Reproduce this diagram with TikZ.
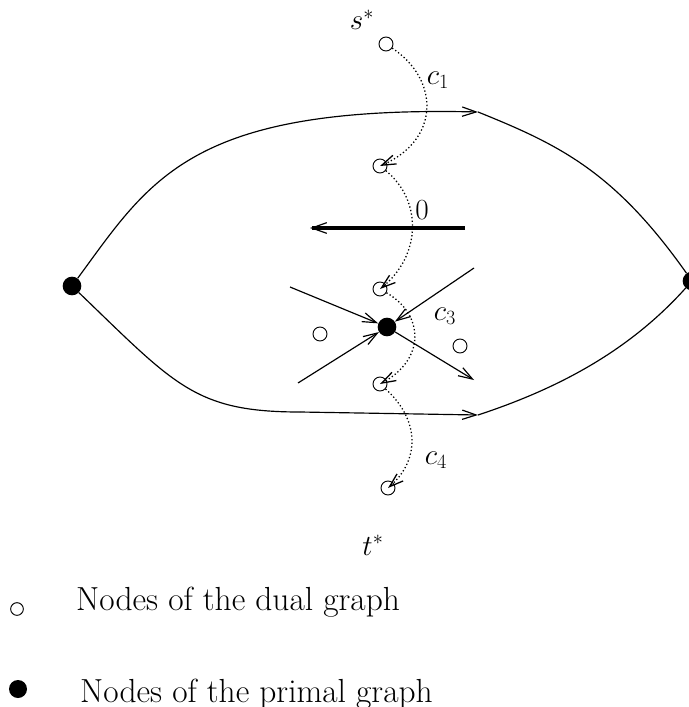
\documentclass[tikz,border=0pt]{standalone}
\usepackage{xcolor}
\usepackage{tikz}
\usetikzlibrary{arrows.meta}
\usepackage{amsmath, amssymb}

\tikzset{
  dual/.style={circle, draw, line width=0.8pt, fill=white, inner sep=0pt, minimum size=0.42cm},
  primal/.style={circle, fill=black, inner sep=0pt, minimum size=0.56cm},
  tip/.style={-{Straight Barb[length=0.42cm, width=0.28cm]}},
  arista/.style={line width=1pt},
  corte/.style={dotted, line width=1.1pt, tip},
  leyenda/.style={anchor=base west, inner sep=0pt, font=\fontsize{28.5}{32}\selectfont}
}

\begin{document}
\begin{tikzpicture}[x=0.03cm, y=0.03cm]
\useasboundingbox (0,0) rectangle (688,-707);

% Nodos del primal
\node[primal] (pl) at (72,-286) {};
\node[primal] (pr) at (692,-281) {};
\node[primal] (pc) at (387,-327) {};

% Nodos del dual
\node[dual] (s) at (386,-44) {};
\node[dual] (d1) at (380,-166) {};
\node[dual] (d2) at (380,-289) {};
\node[dual] (d3) at (320,-334) {};
\node[dual] (d4) at (460,-346) {};
\node[dual] (d5) at (380,-384) {};
\node[dual] (t) at (388,-488) {};

% Aristas exteriores
\coordinate (am) at (478,-112);
\coordinate (bm) at (478,-415);
\coordinate (bq) at (300,-412);
\draw[arista, tip] (pl) .. controls (150,-180) and (190,-105) .. (am);
\draw[arista] (am) .. controls (560,-145) and (615,-172) .. (pr);
\draw[arista] (pl) .. controls (175,-385) and (195,-412) .. (bq);
\draw[arista, tip] (bq) -- (bm);
\draw[arista] (bm) .. controls (560,-388) and (630,-350) .. (pr);

% Arista de peso cero
\coordinate (za) at (465,-228);
\coordinate (zb) at (310,-228);
\draw[line width=2.6pt, -{Straight Barb[length=0.45cm, width=0.32cm, line width=1pt]}] (za) -- (zb);

% Aristas del nodo central
\coordinate (e1) at (290,-287);
\coordinate (e2) at (298,-383);
\coordinate (e3) at (474,-268);
\coordinate (e4) at (474,-380);
\draw[arista, tip] (e1) -- (pc);
\draw[arista, tip] (e2) -- (pc);
\draw[arista, tip] (e3) -- (pc);
\draw[arista, tip] (pc) -- (e4);

% Cortes en el dual
\draw[corte] (s) .. controls (440,-80) and (440,-140) .. (d1.center);
\draw[corte] (d1) .. controls (422,-200) and (422,-255) .. (d2.center);
\draw[corte] (d2) .. controls (425,-315) and (425,-360) .. (d5.center);
\draw[corte] (d5) .. controls (420,-420) and (420,-460) .. (t.center);

% Etiquetas
\begin{scope}[font=\fontsize{24}{28}\selectfont]
\node (ls) at (362,-20) {$s^{*}$};
\node (lc1) at (438,-80) {$c_1$};
\node (l0) at (422,-210) {$0$};
\node (lc3) at (445,-316) {$c_3$};
\node (lc4) at (436,-460) {$c_4$};
\node (lt) at (373,-545) {$t^{*}$};
\end{scope}

% Leyenda
\node[circle, draw, line width=0.8pt, inner sep=0pt, minimum size=0.38cm] (ld) at (17,-609) {};
\node[primal, minimum size=0.54cm] (lp) at (18,-689) {};
\node[leyenda] (td) at (76,-610) {Nodes of the dual graph};
\node[leyenda] (tp) at (80,-702) {Nodes of the primal graph};

\end{tikzpicture}
\end{document}
